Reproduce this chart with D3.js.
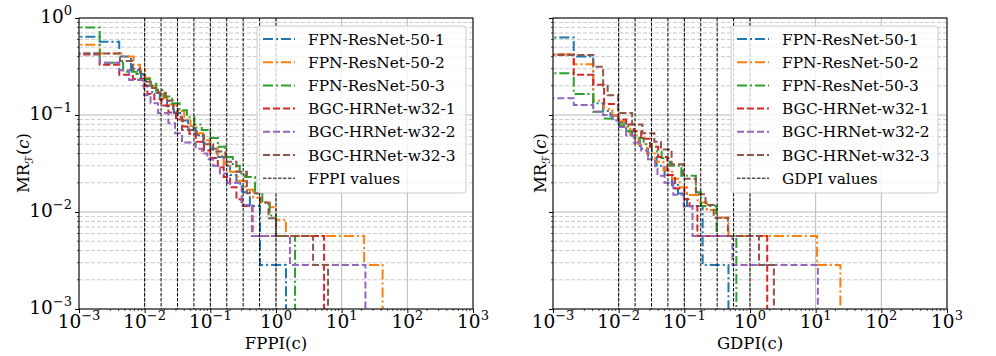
<!DOCTYPE html>
<html><head><meta charset="utf-8">
<script src="https://cdn.jsdelivr.net/npm/d3@7"></script>
<style>
body{margin:0;background:#fff;}
svg{display:block;}
text{font-family:"DejaVu Serif","Liberation Serif",serif;fill:#000;}
</style>
</head><body>
<svg id="chart" width="996" height="356"></svg>
<script>
// ---------- data ----------
const seriesNames = ["FPN-ResNet-50-1","FPN-ResNet-50-2","FPN-ResNet-50-3","BGC-HRNet-w32-1","BGC-HRNet-w32-2","BGC-HRNet-w32-3"];
const seriesColors = ["#1f77b4","#ff7f0e","#2ca02c","#d62728","#9467bd","#8c564b"];
const seriesStyles = ["dashdot","dashdot","dashdot","dashed","dashed","dashed"];
const referenceValues = [0.01,0.01778,0.03162,0.05623,0.1,0.1778,0.3162,0.5623,1.0];
const tickExponentsX = [-3,-2,-1,0,1,2,3];
const tickExponentsY = [-3,-2,-1,0];

// left panel: MR vs FPPI  ([FPPI, miss rate] step points)
const fppiFPN1 = [[1e-4,0.64],[0.00207,0.57],[0.0041,0.40],[0.0062,0.29],[0.0088,0.235],[0.0105,0.2],[0.013,0.17],[0.017,0.145],[0.022,0.123],[0.028,0.105],[0.036,0.088],[0.046,0.074],[0.06,0.062],[0.078,0.052],[0.1,0.045],[0.125,0.037],[0.16,0.03],[0.2,0.024],[0.25,0.0195],[0.31,0.016],[0.4,0.0115],[0.57,0.00284],[1.42,1e-5]];
const fppiFPN2 = [[1e-4,0.53],[0.00207,0.43],[0.0048,0.40],[0.0068,0.33],[0.0085,0.29],[0.0102,0.24],[0.012,0.2],[0.015,0.172],[0.019,0.15],[0.024,0.128],[0.031,0.11],[0.04,0.09],[0.05,0.077],[0.062,0.065],[0.078,0.055],[0.1,0.046],[0.13,0.038],[0.16,0.031],[0.2,0.026],[0.26,0.021],[0.34,0.017],[0.45,0.014],[0.6,0.0125],[0.81,0.0112],[1.0,0.0083],[1.42,0.00566],[22,0.00284],[42,1e-5]];
const fppiFPN3 = [[1e-4,0.80],[0.00207,0.345],[0.0047,0.28],[0.0075,0.265],[0.0095,0.235],[0.012,0.21],[0.015,0.18],[0.02,0.155],[0.026,0.132],[0.034,0.112],[0.044,0.095],[0.057,0.08],[0.074,0.07],[0.1,0.058],[0.13,0.047],[0.17,0.037],[0.22,0.03],[0.28,0.025],[0.34,0.023],[0.48,0.0155],[0.62,0.0125],[0.8,0.0092],[1.0,0.00566],[1.95,1e-5]];
const fppiBGC1 = [[1e-4,0.42],[0.00207,0.33],[0.0041,0.26],[0.0066,0.235],[0.0095,0.2],[0.011,0.165],[0.014,0.145],[0.018,0.125],[0.023,0.106],[0.03,0.09],[0.038,0.076],[0.048,0.064],[0.06,0.053],[0.08,0.043],[0.1,0.036],[0.13,0.029],[0.16,0.023],[0.2,0.018],[0.25,0.0135],[0.3,0.0115],[0.44,0.00566],[5.4,1e-5]];
const fppiBGC2 = [[1e-4,0.43],[0.00207,0.345],[0.0041,0.29],[0.0058,0.23],[0.0098,0.16],[0.0123,0.132],[0.016,0.105],[0.023,0.082],[0.029,0.065],[0.037,0.052],[0.06,0.045],[0.075,0.04],[0.09,0.035],[0.11,0.03],[0.14,0.025],[0.18,0.02],[0.3,0.0118],[0.43,0.00566],[1.63,0.00284],[23,1e-5]];
const fppiBGC3 = [[1e-4,0.43],[0.0042,0.36],[0.0066,0.3],[0.0085,0.26],[0.01,0.22],[0.013,0.19],[0.016,0.17],[0.021,0.14],[0.027,0.115],[0.032,0.095],[0.037,0.07],[0.062,0.062],[0.08,0.05],[0.11,0.042],[0.17,0.033],[0.25,0.026],[0.36,0.0156],[0.57,0.0125],[0.77,0.0086],[1.0,0.00566],[3.67,0.00284],[6.2,1e-5]];

// right panel: MR vs GDPI
const gdpiFPN1 = [[1e-4,0.63],[0.00207,0.40],[0.0041,0.132],[0.0058,0.11],[0.0075,0.098],[0.01,0.083],[0.013,0.068],[0.016,0.058],[0.021,0.045],[0.028,0.037],[0.038,0.03],[0.05,0.024],[0.065,0.019],[0.08,0.0155],[0.11,0.0115],[0.19,0.00284],[0.47,1e-5]];
const gdpiFPN2 = [[1e-4,0.42],[0.00207,0.333],[0.0041,0.14],[0.006,0.115],[0.008,0.1],[0.01,0.086],[0.012,0.075],[0.015,0.062],[0.02,0.05],[0.027,0.04],[0.036,0.033],[0.048,0.027],[0.065,0.022],[0.085,0.018],[0.11,0.015],[0.16,0.0125],[0.22,0.0105],[0.3,0.0087],[0.47,0.00566],[10.5,0.00284],[23.8,1e-5]];
const gdpiFPN3 = [[1e-4,0.27],[0.00207,0.165],[0.0041,0.108],[0.0058,0.092],[0.0103,0.078],[0.014,0.068],[0.018,0.058],[0.024,0.05],[0.032,0.042],[0.045,0.036],[0.06,0.03],[0.09,0.0237],[0.15,0.016],[0.18,0.0115],[0.31,0.00566],[0.62,1e-5]];
const gdpiBGC1 = [[1e-4,0.42],[0.00207,0.26],[0.0041,0.205],[0.006,0.13],[0.0098,0.09],[0.013,0.08],[0.017,0.068],[0.022,0.057],[0.03,0.047],[0.04,0.037],[0.055,0.024],[0.072,0.0175],[0.1,0.0135],[0.12,0.0115],[0.158,0.00566],[1.83,1e-5]];
const gdpiBGC2 = [[1e-4,0.149],[0.00207,0.127],[0.0041,0.108],[0.0058,0.1],[0.008,0.088],[0.01,0.075],[0.013,0.062],[0.017,0.052],[0.022,0.043],[0.028,0.035],[0.036,0.028],[0.039,0.0237],[0.05,0.02],[0.068,0.0151],[0.098,0.0114],[0.133,0.00566],[0.54,0.00284],[10.8,1e-5]];
const gdpiBGC3 = [[1e-4,0.415],[0.0041,0.315],[0.0058,0.2],[0.0068,0.16],[0.0098,0.105],[0.016,0.08],[0.023,0.065],[0.035,0.053],[0.044,0.044],[0.064,0.031],[0.095,0.022],[0.15,0.0152],[0.21,0.0118],[0.28,0.0087],[0.46,0.00566],[1.37,0.00284],[2.31,1e-5]];

// ---------- drawing ----------
const svg = d3.select("#chart");
const plotTop = 18, plotBottom = 309;
const dashes = {dashdot:"10,3,2,3", dashed:"7,3"};

const panels = [
  {x0:79, x1:473, data:[fppiFPN1,fppiFPN2,fppiFPN3,fppiBGC1,fppiBGC2,fppiBGC3], xLabel:"FPPI(c)", refLabel:"FPPI values", yTicks:true, yLabelX:29, legend:{x:257,w:209}},
  {x0:553, x1:947, data:[gdpiFPN1,gdpiFPN2,gdpiFPN3,gdpiBGC1,gdpiBGC2,gdpiBGC3], xLabel:"GDPI(c)", refLabel:"GDPI values", yTicks:false, yLabelX:546, legend:{x:731,w:207}}
];

function supLabel(t, e){
  t.append("tspan").text("10");
  t.append("tspan").attr("font-size",13).attr("dy",-8).text(e<0 ? "\u2212"+(-e) : String(e));
}

panels.forEach((p,pi)=>{
  const x = d3.scaleLog().domain([1e-3,1e3]).range([p.x0,p.x1]);
  const y = d3.scaleLog().domain([1e-3,1]).range([plotBottom,plotTop]);
  const g = svg.append("g");
  const clipId = "clip"+pi;
  svg.append("defs").append("clipPath").attr("id",clipId)
    .append("rect").attr("x",p.x0).attr("y",plotTop).attr("width",p.x1-p.x0).attr("height",plotBottom-plotTop);

  const minorY = [];
  [-3,-2,-1].forEach(k=>{ for(let m=2;m<=9;m++) minorY.push(m*Math.pow(10,k)); });
  g.selectAll(null).data(minorY).enter().append("line")
    .attr("x1",p.x0).attr("x2",p.x1).attr("y1",d=>y(d)).attr("y2",d=>y(d))
    .attr("stroke","#c4c4c4").attr("stroke-width",0.9).attr("stroke-dasharray","4,2");
  g.selectAll(null).data(tickExponentsY.map(e=>Math.pow(10,e))).enter().append("line")
    .attr("x1",p.x0).attr("x2",p.x1).attr("y1",d=>y(d)).attr("y2",d=>y(d))
    .attr("stroke","#b0b0b0").attr("stroke-width",0.9);
  g.selectAll(null).data(tickExponentsX.map(e=>Math.pow(10,e))).enter().append("line")
    .attr("y1",plotTop).attr("y2",plotBottom).attr("x1",d=>x(d)).attr("x2",d=>x(d))
    .attr("stroke","#b0b0b0").attr("stroke-width",0.9);

  const line = d3.line().x(d=>x(d[0])).y(d=>y(d[1])).curve(d3.curveStepAfter);
  const sg = g.append("g").attr("clip-path",`url(#${clipId})`);
  p.data.forEach((arr,i)=>{
    sg.append("path").attr("d",line(arr)).attr("fill","none")
      .attr("stroke",seriesColors[i]).attr("stroke-width",2)
      .attr("stroke-dasharray",dashes[seriesStyles[i]]);
  });
  sg.selectAll(null).data(referenceValues).enter().append("line")
    .attr("x1",d=>x(d)).attr("x2",d=>x(d)).attr("y1",plotTop).attr("y2",plotBottom)
    .attr("stroke","#000").attr("stroke-width",1).attr("stroke-dasharray","3.5,1.5");

  const xAxis = d3.axisBottom(x).tickValues(tickExponentsX.map(e=>Math.pow(10,e))).tickSize(4).tickFormat("");
  const ax = g.append("g").attr("transform",`translate(0,${plotBottom})`).call(xAxis);
  ax.select(".domain").remove();
  const minorX = [];
  [-3,-2,-1,0,1,2].forEach(k=>{ for(let m=2;m<=9;m++) minorX.push(m*Math.pow(10,k)); });
  g.selectAll(null).data(minorX).enter().append("line")
    .attr("x1",d=>x(d)).attr("x2",d=>x(d)).attr("y1",plotBottom).attr("y2",plotBottom+2).attr("stroke","#000").attr("stroke-width",0.7);
  const yAxis = d3.axisLeft(y).tickValues(tickExponentsY.map(e=>Math.pow(10,e))).tickSize(4).tickFormat("");
  const ay = g.append("g").attr("transform",`translate(${p.x0},0)`).call(yAxis);
  ay.select(".domain").remove();
  g.selectAll(null).data(minorY).enter().append("line")
    .attr("y1",d=>y(d)).attr("y2",d=>y(d)).attr("x1",p.x0).attr("x2",p.x0-2).attr("stroke","#000").attr("stroke-width",0.7);

  tickExponentsX.forEach(e=>{
    const t = g.append("text").attr("x",x(Math.pow(10,e))).attr("y",328)
      .attr("text-anchor","middle").attr("font-size",18.5);
    supLabel(t,e);
  });
  if(p.yTicks){
    tickExponentsY.forEach(e=>{
      const t = g.append("text").attr("x",72).attr("y",y(Math.pow(10,e))+5)
        .attr("text-anchor","end").attr("font-size",18.5);
      supLabel(t,e);
    });
  }
  g.append("rect").attr("x",p.x0).attr("y",plotTop).attr("width",p.x1-p.x0).attr("height",plotBottom-plotTop)
    .attr("fill","none").attr("stroke","#000").attr("stroke-width",1);

  g.append("text").attr("x",(p.x0+p.x1)/2).attr("y",349).attr("text-anchor","middle")
    .attr("font-size",16.5).text(p.xLabel);
  const yl = g.append("text").attr("transform",`translate(${p.yLabelX},163) rotate(-90)`)
    .attr("text-anchor","middle").attr("font-size",16.5);
  yl.append("tspan").text("MR");
  yl.append("tspan").attr("font-size",11).attr("font-family","DejaVu Sans").attr("dy",4).text("\u2131");
  yl.append("tspan").attr("dy",-4).text("(");
  yl.append("tspan").attr("font-style","italic").text("c");
  yl.append("tspan").text(")");

  const L = p.legend, ly0 = 26, lh = 167;
  const lg = g.append("g");
  lg.append("rect").attr("x",L.x).attr("y",ly0).attr("width",L.w).attr("height",lh).attr("rx",3)
    .attr("fill","#fff").attr("fill-opacity",0.8).attr("stroke","#cccccc").attr("stroke-width",1);
  const entries = seriesNames.map((n,i)=>({name:n,color:seriesColors[i],dash:dashes[seriesStyles[i]],w:2}))
    .concat([{name:p.refLabel,color:"#000",dash:"3.5,1.5",w:1}]);
  entries.forEach((en,i)=>{
    const cy = 39 + i*23.2;
    lg.append("line").attr("x1",L.x+6).attr("x2",L.x+38).attr("y1",cy).attr("y2",cy)
      .attr("stroke",en.color).attr("stroke-width",en.w).attr("stroke-dasharray",en.dash);
    lg.append("text").attr("x",L.x+51).attr("y",cy+5.5).attr("font-size",15.4).text(en.name);
  });
});
</script>
</body></html>
